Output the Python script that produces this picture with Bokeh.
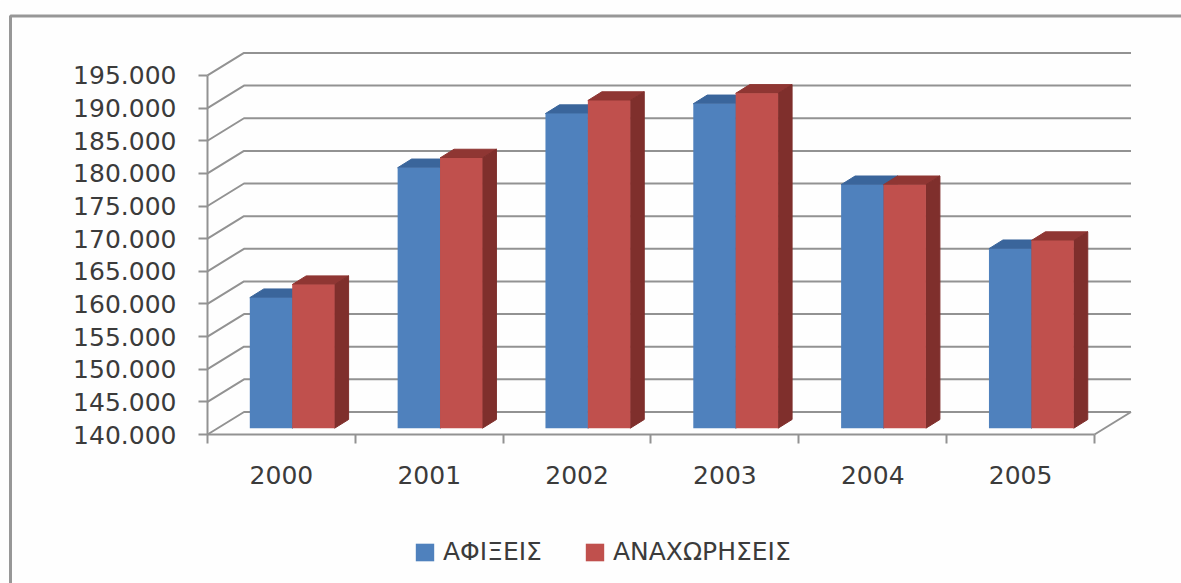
from bokeh.plotting import figure
from bokeh.models import (ColumnDataSource, FixedTicker, Legend, LegendItem, BoxAnnotation, Range1d)
from bokeh.embed import file_html
from bokeh.resources import INLINE

years = ["2000", "2001", "2002", "2003", "2004", "2005"]
arrivals = [160000, 179900, 188200, 189700, 177300, 167500]
departures = [162000, 181400, 190200, 191300, 177300, 168750]
y_ticks = list(range(140000, 200000, 5000))

W, H = 1181, 583
AXIS_X, AXIS_Y = 207, 434   # where the two axes cross on the canvas
PX_X = 147.83          # pixels per category
PX_Y = 32.64 / 5000    # pixels per value unit
FONT = "DejaVu Sans"
TXT = "#3b3b3b"
AX = "#929292"

# pseudo-3D geometry (in data units)
WALL_DX, WALL_DY = 36.5 / PX_X, 22.5 / PX_Y
BAR_START, BAR_W = 42.3 / PX_X, 42.4 / PX_X
LIFT = 6.3 / PX_Y
SIDE_DX, SIDE_DY = 14 / PX_X, 8.7 / PX_Y
FLOOR = y_ticks[0]

p = figure(width=W, height=H, output_backend="svg", toolbar_location=None,
           x_range=Range1d(-AXIS_X / PX_X, (W - AXIS_X) / PX_X),
           y_range=Range1d(FLOOR - (H - AXIS_Y) / PX_Y, FLOOR + AXIS_Y / PX_Y),
           min_border_left=0, min_border_right=0, min_border_top=0, min_border_bottom=0,
           background_fill_color="#fefefe", border_fill_color="#fefefe")
p.grid.visible = False
p.outline_line_color = None

# outer chart border
p.add_layout(BoxAnnotation(left=10, top=15.5, right=W + 20, bottom=H + 20,
                           left_units="canvas", right_units="canvas",
                           top_units="canvas", bottom_units="canvas",
                           fill_alpha=0, line_color="#979797", line_alpha=1, line_width=3))

# walls
n = len(years)
gx = [[0, WALL_DX, n + WALL_DX] for _ in y_ticks] + [[n, n + WALL_DX]]
gy = [[v, v + WALL_DY, v + WALL_DY] for v in y_ticks] + [[FLOOR, FLOOR + WALL_DY]]
p.multi_line(gx, gy, line_color=AX, line_width=2)

def bars(values, start, front, top, side):
    left = [i + start for i in range(n)]
    right = [l + BAR_W for l in left]
    base = [FLOOR + LIFT] * n
    tops = [v + LIFT for v in values]
    p.patches([[l, l + SIDE_DX, r + SIDE_DX, r] for l, r in zip(left, right)],
              [[t, t + SIDE_DY, t + SIDE_DY, t] for t in tops],
              fill_color=top, line_color=top)
    p.patches([[r, r + SIDE_DX, r + SIDE_DX, r] for r in right],
              [[b, b + SIDE_DY, t + SIDE_DY, t] for b, t in zip(base, tops)],
              fill_color=side, line_color=side)
    src = ColumnDataSource(dict(left=left, right=right, top=tops, bottom=base))
    return p.quad(left="left", right="right", top="top", bottom="bottom", source=src,
                  fill_color=front, line_color=None)

r1 = bars(arrivals, BAR_START, "#4F81BD", "#3A659B", "#375F91")
r2 = bars(departures, BAR_START + BAR_W, "#C0504D", "#8F3633", "#7F2F2C")

# axes
ya = p.yaxis[0]
ya.fixed_location = 0
ya.ticker = FixedTicker(ticks=y_ticks)
ya.bounds = (y_ticks[0], y_ticks[-1])
ya.major_label_overrides = {v: f"{v:,}".replace(",", ".") for v in y_ticks}
ya.major_tick_in, ya.major_tick_out = 0, 9
ya.minor_tick_line_color = None
ya.axis_line_color = ya.major_tick_line_color = AX
ya.axis_line_width = ya.major_tick_line_width = 2
ya.major_label_text_font = FONT
ya.major_label_text_font_size = "25px"
ya.major_label_text_color = TXT
ya.major_label_standoff = 22

xa = p.xaxis[0]
xa.fixed_location = FLOOR
centers = [i + 0.5 for i in range(n)]
xa.ticker = FixedTicker(ticks=centers, minor_ticks=list(range(n + 1)))
xa.bounds = (0, n)
xa.major_label_overrides = dict(zip(centers, years))
xa.major_tick_line_color = None
xa.major_tick_in, xa.major_tick_out = 0, 9
xa.minor_tick_in, xa.minor_tick_out = 0, 9
xa.minor_tick_line_color = AX
xa.minor_tick_line_width = 2
xa.axis_line_color = AX
xa.axis_line_width = 2
xa.major_label_text_font = FONT
xa.major_label_text_font_size = "25px"
xa.major_label_text_color = TXT
xa.major_label_standoff = 22

legend = Legend(items=[LegendItem(label="ΑΦΙΞΕΙΣ", renderers=[r1]),
                       LegendItem(label="ΑΝΑΧΩΡΗΣΕΙΣ", renderers=[r2])],
                orientation="horizontal", location=(413, 17),
                glyph_width=23, glyph_height=22, label_standoff=7, spacing=41,
                padding=0, margin=0, border_line_color=None, background_fill_alpha=0,
                label_text_font=FONT, label_text_font_size="25px", label_text_color=TXT)
p.add_layout(legend, "center")

open("out.html", "w").write(file_html(p, INLINE))
